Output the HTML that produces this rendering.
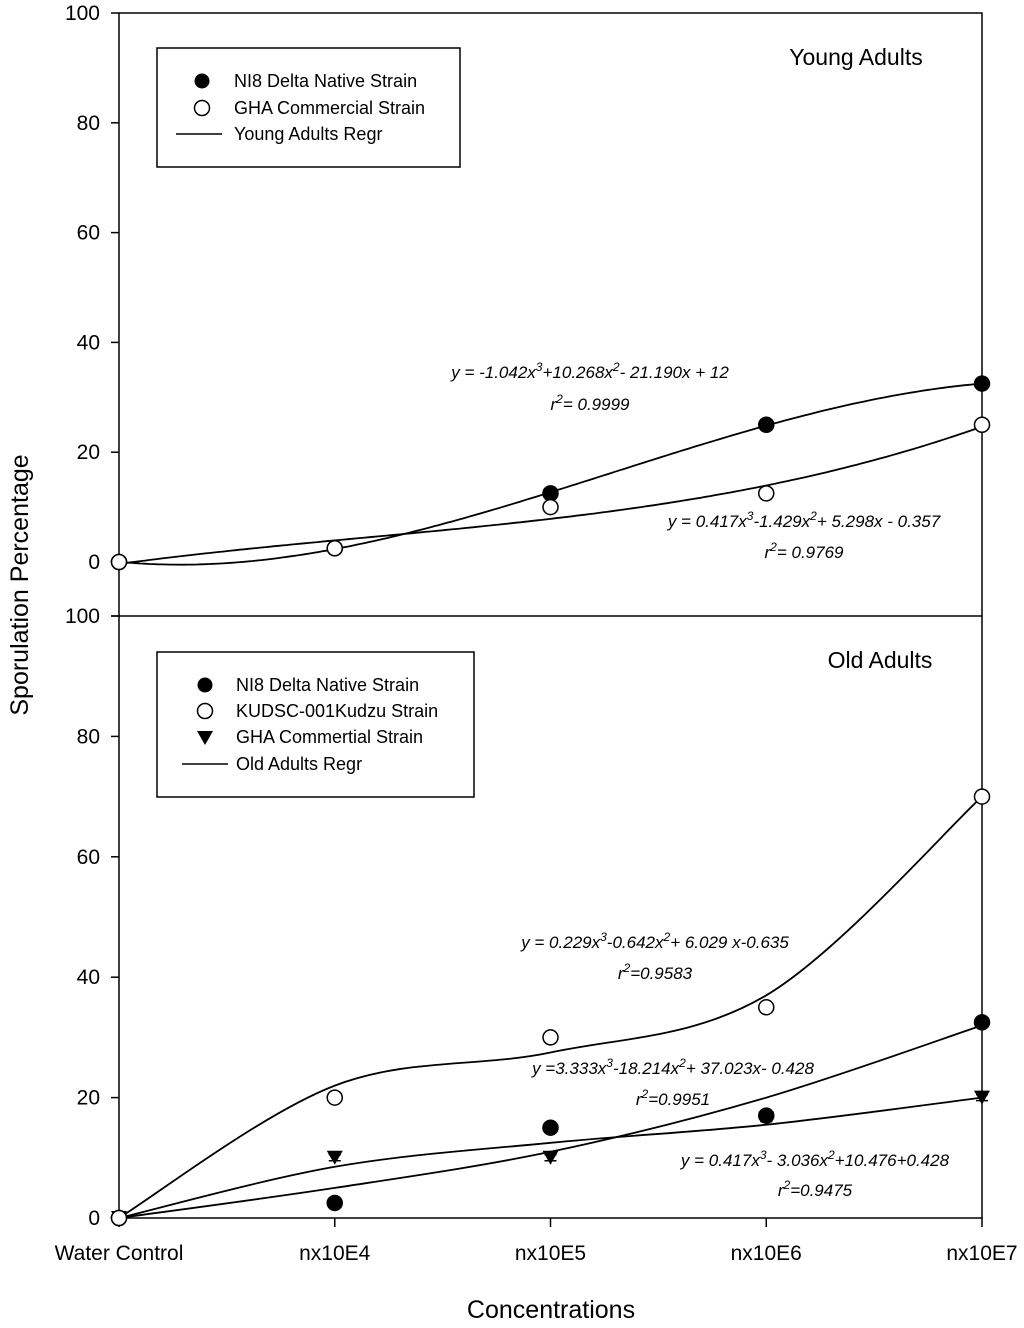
<!DOCTYPE html>
<html><head><meta charset="utf-8"><style>
body{margin:0;background:#fff}
svg{display:block;font-family:"Liberation Sans",Arial,sans-serif}
.tk{font-size:21px;fill:#000}
.eq{font-size:17px;font-style:italic;fill:#000}
.lg{font-size:18px;fill:#000}
</style></head><body>
<svg id="chart" width="1024" height="1328" viewBox="0 0 1024 1328" xmlns="http://www.w3.org/2000/svg">
<g id="g"></g>
<text x="28" y="585" transform="rotate(-90 28 585)" text-anchor="middle" style="font-size:25px">Sporulation Percentage</text>
<text x="551" y="1318" text-anchor="middle" style="font-size:25px">Concentrations</text>
<text x="856" y="65" text-anchor="middle" style="font-size:23px">Young Adults</text>
<text x="880" y="668" text-anchor="middle" style="font-size:23px">Old Adults</text>
<g>
<text class="eq" x="590" y="378" text-anchor="middle">y = -1.042x<tspan dy="-7" font-size="12">3</tspan><tspan dy="7">+10.268x</tspan><tspan dy="-7" font-size="12">2</tspan><tspan dy="7">- 21.190x + 12</tspan></text>
<text class="eq" x="590" y="410" text-anchor="middle">r<tspan dy="-7" font-size="12">2</tspan><tspan dy="7">= 0.9999</tspan></text>
<text class="eq" x="804" y="527" text-anchor="middle">y = 0.417x<tspan dy="-7" font-size="12">3</tspan><tspan dy="7">-1.429x</tspan><tspan dy="-7" font-size="12">2</tspan><tspan dy="7">+ 5.298x - 0.357</tspan></text>
<text class="eq" x="804" y="558" text-anchor="middle">r<tspan dy="-7" font-size="12">2</tspan><tspan dy="7">= 0.9769</tspan></text>
<text class="eq" x="655" y="948" text-anchor="middle">y = 0.229x<tspan dy="-7" font-size="12">3</tspan><tspan dy="7">-0.642x</tspan><tspan dy="-7" font-size="12">2</tspan><tspan dy="7">+ 6.029 x-0.635</tspan></text>
<text class="eq" x="655" y="979" text-anchor="middle">r<tspan dy="-7" font-size="12">2</tspan><tspan dy="7">=0.9583</tspan></text>
<text class="eq" x="673" y="1074" text-anchor="middle">y =3.333x<tspan dy="-7" font-size="12">3</tspan><tspan dy="7">-18.214x</tspan><tspan dy="-7" font-size="12">2</tspan><tspan dy="7">+ 37.023x- 0.428</tspan></text>
<text class="eq" x="673" y="1105" text-anchor="middle">r<tspan dy="-7" font-size="12">2</tspan><tspan dy="7">=0.9951</tspan></text>
<text class="eq" x="815" y="1166" text-anchor="middle">y = 0.417x<tspan dy="-7" font-size="12">3</tspan><tspan dy="7">- 3.036x</tspan><tspan dy="-7" font-size="12">2</tspan><tspan dy="7">+10.476+0.428</tspan></text>
<text class="eq" x="815" y="1196" text-anchor="middle">r<tspan dy="-7" font-size="12">2</tspan><tspan dy="7">=0.9475</tspan></text>
</g>
<g>
<rect x="157" y="48" width="303" height="119" fill="#fff" stroke="#000" stroke-width="1.5"/>
<circle cx="202" cy="81" r="7.5" fill="#000"/><text class="lg" x="234" y="87">NI8 Delta Native Strain</text>
<circle cx="202" cy="108" r="7.5" fill="#fff" stroke="#000" stroke-width="1.5"/><text class="lg" x="234" y="114">GHA Commercial Strain</text>
<line x1="176" y1="134" x2="222" y2="134" stroke="#000" stroke-width="1.5"/><text class="lg" x="234" y="140">Young Adults Regr</text>
</g>
<g>
<rect x="157" y="652" width="317" height="145" fill="#fff" stroke="#000" stroke-width="1.5"/>
<circle cx="205" cy="685" r="7.5" fill="#000"/><text class="lg" x="236" y="691">NI8 Delta Native Strain</text>
<circle cx="205" cy="711" r="7.5" fill="#fff" stroke="#000" stroke-width="1.5"/><text class="lg" x="236" y="717">KUDSC-001Kudzu Strain</text>
<path d="M197,731 L213,731 L205,745 Z" fill="#000"/><text class="lg" x="236" y="743">GHA Commertial Strain</text>
<line x1="182" y1="764" x2="228" y2="764" stroke="#000" stroke-width="1.5"/><text class="lg" x="236" y="770">Old Adults Regr</text>
</g>
</svg>
<script>
const categories=["Water Control","nx10E4","nx10E5","nx10E6","nx10E7"];
const yTicks=[0,20,40,60,80,100];
// Young adults
const youngNI8=[0,2.5,12.5,25,32.5];
const youngGHA=[0,2.5,10,12.5,25];
const youngNI8Coef=[-1.042,10.268,-21.190,12]; const youngNI8Offset=1;
const youngGHACoef=[0.417,-1.429,5.298,-0.357]; const youngGHAOffset=0;
// Old adults
const oldNI8=[0,2.5,15,17,32.5];
const oldKudzu=[0,20,30,35,70];
const oldGHA=[0,10,10,16.5,20];
const oldKudzuFit=[0,22,27.5,37,70];
const oldNI8Fit=[0,5,11,20,32];
const oldGHAFit=[0,8.5,12.5,15.5,20];

const NS="http://www.w3.org/2000/svg";
const g=document.getElementById('g');
const X0=119,X1=982;
const xs=i=>X0+i*(X1-X0)/(categories.length-1);
const yTop=v=>562-v*(562-13)/100;
const yBot=v=>1218-v*(1218-616)/100;
function mk(t,a,p){const e=document.createElementNS(NS,t);for(const k in a)e.setAttribute(k,a[k]);(p||g).appendChild(e);return e;}

let e=mk('path',{d:`M${X0},13 H${X1} V1218 H${X0} Z M111,616 H${X1}`,fill:'none',stroke:'#000','stroke-width':1.5});


[yTop,yBot].forEach(fy=>{
 yTicks.forEach(v=>{
  const l=mk('line',{x1:111,x2:X0,y1:fy(v),y2:fy(v),stroke:'#000','stroke-width':1.5});
  
  
  const t=mk('text',{x:100,y:fy(v)+7,'text-anchor':'end',class:'tk'});
  t.textContent=v;
  
  
 });
});
categories.forEach((c,i)=>{
 const l=mk('line',{x1:xs(i),x2:xs(i),y1:1218,y2:1227,stroke:'#000','stroke-width':1.5});
 
 
 const t=mk('text',{x:xs(i),y:1260,'text-anchor':'middle',class:'tk'});
 t.textContent=c;
 
 
});

function polyPath(coef,off,fy){let d='';for(let k=0;k<=200;k++){const xi=k*4/200;const x=xi+off;const v=((coef[0]*x+coef[1])*x+coef[2])*x+coef[3];d+=(k?'L':'M')+xs(xi).toFixed(1)+','+fy(v).toFixed(1);}return d;}
function splinePath(vals,fy){const p=vals.map((v,i)=>[xs(i),fy(v)]);let d=`M${p[0][0]},${p[0][1]}`;
 for(let i=0;i<p.length-1;i++){const p0=p[Math.max(0,i-1)],p1=p[i],p2=p[i+1],p3=p[Math.min(p.length-1,i+2)];
  const c1=[p1[0]+(p2[0]-p0[0])/6,p1[1]+(p2[1]-p0[1])/6],c2=[p2[0]-(p3[0]-p1[0])/6,p2[1]-(p3[1]-p1[1])/6];
  d+=`C${c1[0].toFixed(1)},${c1[1].toFixed(1)} ${c2[0].toFixed(1)},${c2[1].toFixed(1)} ${p2[0].toFixed(1)},${p2[1].toFixed(1)}`;}return d;}
function curve(d,name){const c=mk('path',{d,fill:'none',stroke:'#000','stroke-width':1.8});
 
 }
curve(polyPath(youngNI8Coef,youngNI8Offset,yTop),'young-ni8-regression');
curve(polyPath(youngGHACoef,youngGHAOffset,yTop),'young-gha-regression');
curve(splinePath(oldKudzuFit,yBot),'old-kudzu-regression');
curve(splinePath(oldNI8Fit,yBot),'old-ni8-regression');
curve(splinePath(oldGHAFit,yBot),'old-gha-regression');

function errbar(x,y){mk('path',{d:`M${x-6},${y-3}H${x+6}M${x-6},${y+3}H${x+6}M${x},${y-3}V${y+3}`,stroke:'#000','stroke-width':1.5});}
function points(vals,fy,type,name){vals.forEach((v,i)=>{const x=xs(i),y=fy(v);errbar(x,y);let m;
 if(type==='tri')m=mk('path',{d:`M${x-8},${y-7}L${x+8},${y-7}L${x},${y+7}Z`,fill:'#000'});
 else m=mk('circle',{cx:x,cy:y,r:7.5,fill:type==='filled'?'#000':'#fff',stroke:'#000','stroke-width':1.5});
 
 });}
points(youngNI8,yTop,'filled','young-ni8-point');
points(youngGHA,yTop,'open','young-gha-point');
points(oldGHA,yBot,'tri','old-gha-point');
points(oldNI8,yBot,'filled','old-ni8-point');
points(oldKudzu,yBot,'open','old-kudzu-point');
</script>
</body></html>
